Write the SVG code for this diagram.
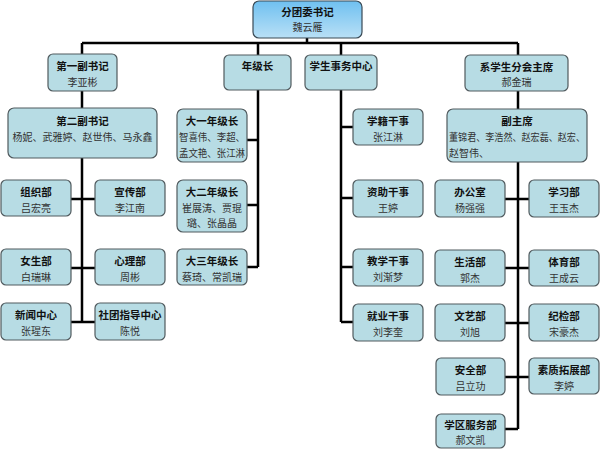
<svg xmlns="http://www.w3.org/2000/svg" width="600" height="450" viewBox="0 0 600 450">
<defs>
<linearGradient id="topg" x1="0" y1="0" x2="0" y2="1">
<stop offset="0" stop-color="#6fc0f0"/>
<stop offset="1" stop-color="#b9e0f6"/>
</linearGradient>
<style>
.n{fill:#b7dce4;stroke:#505a5e;stroke-width:1.2}
.t{font-family:"Noto Sans CJK SC","Noto Sans",sans-serif;font-size:10.5px;font-weight:bold;fill:#111;text-anchor:middle}
.p{font-family:"Noto Sans CJK SC","Noto Sans",sans-serif;font-size:10px;fill:#333;text-anchor:middle}
.c{stroke:#000;stroke-width:2.5;fill:none}
</style>
</defs>
<rect width="600" height="450" fill="#fff"/>
<g id="connectors">
<path class="c" d="M307,38V43M82,43H518M82,43V54M258,43V55M341,43V55M518,43V55"/>
<path class="c" d="M82,91V108M82,158V322M71,199H95M71,268H95M71,322H95"/>
<path class="c" d="M258,90V267M247,140H258M247,205H258M247,267H258"/>
<path class="c" d="M341,90V322M341,127H353M341,198H353M341,267H353M341,322H353"/>
<path class="c" d="M518,91V109M518,162V429M505,199H529M505,268H529M505,323H529M505,377H529M505,429H518"/>
</g>
<g id="n-top"><rect x="253" y="1" width="109" height="37" rx="6" fill="url(#topg)" stroke="#3a4a55" stroke-width="1.2"/><text class="t" x="307.5" y="16">分团委书记</text><text class="p" x="307.5" y="31">魏云雁</text></g>
<g id="n-fu1"><rect class="n" x="48" y="54" width="69" height="37" rx="5"/><text class="t" x="82.5" y="70">第一副书记</text><text class="p" x="82.5" y="86">李亚彬</text></g>
<g id="n-fu2"><rect class="n" x="8" y="108" width="149" height="50" rx="6"/><text class="t" x="82.5" y="125">第二副书记</text><text class="p" x="82.5" y="141">杨妮、武雅婷、赵世伟、马永鑫</text></g>
<g id="n-zuzhi"><rect class="n" x="1" y="180" width="70" height="36" rx="5"/><text class="t" x="36" y="196">组织部</text><text class="p" x="36" y="212">吕宏亮</text></g>
<g id="n-xuanchuan"><rect class="n" x="95" y="180" width="70" height="36" rx="5"/><text class="t" x="130" y="196">宣传部</text><text class="p" x="130" y="212">李江南</text></g>
<g id="n-nvsheng"><rect class="n" x="1" y="249" width="70" height="36" rx="5"/><text class="t" x="36" y="265">女生部</text><text class="p" x="36" y="281">白瑞琳</text></g>
<g id="n-xinli"><rect class="n" x="95" y="249" width="70" height="36" rx="5"/><text class="t" x="130" y="265">心理部</text><text class="p" x="130" y="281">周彬</text></g>
<g id="n-xinwen"><rect class="n" x="1" y="303" width="70" height="37" rx="5"/><text class="t" x="36" y="319">新闻中心</text><text class="p" x="36" y="335">张瑆东</text></g>
<g id="n-shetuan"><rect class="n" x="95" y="303" width="70" height="37" rx="5"/><text class="t" x="130" y="319">社团指导中心</text><text class="p" x="130" y="335">陈悦</text></g>
<g id="n-nianji"><rect class="n" x="224" y="55" width="67" height="35" rx="5"/><text class="t" x="257.5" y="70">年级长</text></g>
<g id="n-da1"><rect class="n" x="177" y="109" width="70" height="53" rx="6"/><text class="t" x="212" y="125">大一年级长</text><text class="p" x="212" y="141" textLength="66" lengthAdjust="spacingAndGlyphs">智喜伟、李超、</text><text class="p" x="212" y="157" textLength="66" lengthAdjust="spacingAndGlyphs">孟文艳、张江淋</text></g>
<g id="n-da2"><rect class="n" x="177" y="180" width="70" height="52" rx="6"/><text class="t" x="212" y="196">大二年级长</text><text class="p" x="212" y="212">崔展涛、贾琨</text><text class="p" x="212" y="227">璐、张晶晶</text></g>
<g id="n-da3"><rect class="n" x="177" y="249" width="70" height="36" rx="5"/><text class="t" x="212" y="265">大三年级长</text><text class="p" x="212" y="281">蔡琦、常凯瑞</text></g>
<g id="n-shiwu"><rect class="n" x="305" y="55" width="72" height="35" rx="5"/><text class="t" x="341" y="70">学生事务中心</text></g>
<g id="n-xueji"><rect class="n" x="353" y="109" width="70" height="36" rx="5"/><text class="t" x="388" y="125">学籍干事</text><text class="p" x="388" y="141">张江淋</text></g>
<g id="n-zizhu"><rect class="n" x="353" y="180" width="70" height="37" rx="5"/><text class="t" x="388" y="196">资助干事</text><text class="p" x="388" y="212">王婷</text></g>
<g id="n-jiaoxue"><rect class="n" x="353" y="249" width="70" height="37" rx="5"/><text class="t" x="388" y="265">教学干事</text><text class="p" x="388" y="281">刘渐梦</text></g>
<g id="n-jiuye"><rect class="n" x="353" y="304" width="70" height="37" rx="5"/><text class="t" x="388" y="320">就业干事</text><text class="p" x="388" y="336">刘李奎</text></g>
<g id="n-zhuxi"><rect class="n" x="465" y="55" width="103" height="36" rx="5"/><text class="t" x="516.5" y="71">系学生分会主席</text><text class="p" x="516.5" y="86">郝金瑞</text></g>
<g id="n-fuzhuxi"><rect class="n" x="447" y="109" width="140" height="53" rx="6"/><text class="t" x="517" y="125">副主席</text><text class="p" x="517" y="141" textLength="136" lengthAdjust="spacingAndGlyphs">董锦君、李浩然、赵宏磊、赵宏、</text><text class="p" x="449" y="157" style="text-anchor:start">赵智伟、</text></g>
<g id="n-bangong"><rect class="n" x="435" y="180" width="70" height="37" rx="5"/><text class="t" x="470" y="196">办公室</text><text class="p" x="470" y="212">杨强强</text></g>
<g id="n-xuexi"><rect class="n" x="529" y="180" width="70" height="37" rx="5"/><text class="t" x="564" y="196">学习部</text><text class="p" x="564" y="212">王玉杰</text></g>
<g id="n-shenghuo"><rect class="n" x="435" y="250" width="70" height="36" rx="5"/><text class="t" x="470" y="266">生活部</text><text class="p" x="470" y="282">郭杰</text></g>
<g id="n-tiyu"><rect class="n" x="529" y="250" width="70" height="36" rx="5"/><text class="t" x="564" y="266">体育部</text><text class="p" x="564" y="282">王成云</text></g>
<g id="n-wenyi"><rect class="n" x="435" y="304" width="70" height="37" rx="5"/><text class="t" x="470" y="320">文艺部</text><text class="p" x="470" y="336">刘旭</text></g>
<g id="n-jijian"><rect class="n" x="529" y="304" width="70" height="37" rx="5"/><text class="t" x="564" y="320">纪检部</text><text class="p" x="564" y="336">宋豪杰</text></g>
<g id="n-anquan"><rect class="n" x="436" y="358" width="69" height="37" rx="5"/><text class="t" x="470.5" y="374">安全部</text><text class="p" x="470.5" y="390">吕立功</text></g>
<g id="n-suzhi"><rect class="n" x="529" y="358" width="70" height="36" rx="5"/><text class="t" x="564" y="374">素质拓展部</text><text class="p" x="564" y="390">李婷</text></g>
<g id="n-xuequ"><rect class="n" x="436" y="414" width="69" height="34" rx="5"/><text class="t" x="470.5" y="429">学区服务部</text><text class="p" x="470.5" y="444">郝文凯</text></g>
</svg>
